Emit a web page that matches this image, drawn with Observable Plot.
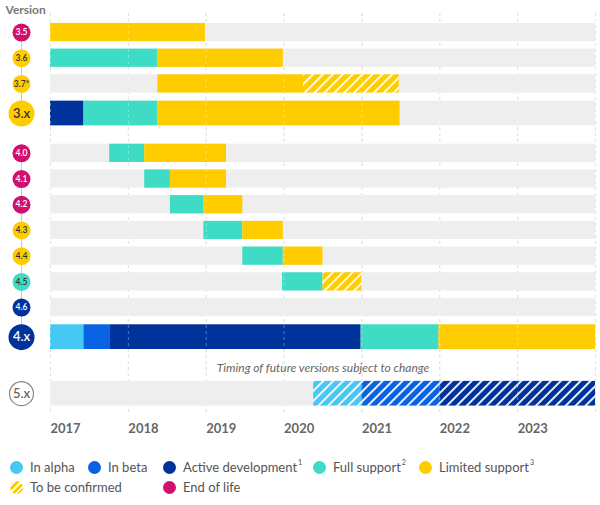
<!DOCTYPE html>
<html><head><meta charset="utf-8">
<script src="https://cdn.jsdelivr.net/npm/d3@7"></script>
<script src="https://cdn.jsdelivr.net/npm/@observablehq/plot@0.6"></script>
<style>
body{margin:0;background:#fff;font-family:Lato,"Open Sans",sans-serif;}
#chart{width:600px;height:445px;}
#legend{position:relative;width:600px;height:60px;font-size:13px;color:#555;}
.item{position:absolute;display:flex;align-items:center;white-space:nowrap;transform:translateY(-50%);}
.sw{width:13px;height:13px;border-radius:50%;margin-right:7px;flex:none;}
sup{font-size:7px;line-height:1;vertical-align:top;position:relative;top:0px;margin-left:1px;}
</style></head><body>
<div id="chart"></div>
<div id="legend"></div>
<script>
// ---- data ----
const versions = ["3.5","3.6","3.7","3.x","4.0","4.1","4.2","4.3","4.4","4.5","4.6","4.x","5.x"];
const versionLabels = ["3.5","3.6","3.7*","3.x","4.0","4.1","4.2","4.3","4.4","4.5","4.6","4.x","5.x"];
const versionGroup = [3,3,3,3,4,4,4,4,4,4,4,4,5];
const majorVersions = ["3.x","4.x","5.x"];
const versionStatus = ["End of life","Limited support","Limited support","Limited support",
  "End of life","End of life","End of life","Limited support","Limited support","Full support",
  "Active development","Active development","Future"];

const statusNames = ["In alpha","In beta","Active development","Full support","Limited support","To be confirmed","End of life"];
const statusColors = ["#46C8F5","#0862E2","#00329B","#3EDCC4","#FFCC00","#FFCC00","#D1106E"];

// segments: [status, start, end, toBeConfirmed]
const seg35 = [["Limited support",2017,2018.99,false]];
const seg36 = [["Full support",2017,2018.38,false],["Limited support",2018.38,2019.99,false]];
const seg37 = [["Limited support",2018.38,2020.25,false],["Limited support",2020.25,2021.48,true]];
const seg3x = [["Active development",2017,2017.43,false],["Full support",2017.43,2018.38,false],["Limited support",2018.38,2021.49,false]];
const seg40 = [["Full support",2017.76,2018.21,false],["Limited support",2018.21,2019.26,false]];
const seg41 = [["Full support",2018.21,2018.54,false],["Limited support",2018.54,2019.26,false]];
const seg42 = [["Full support",2018.54,2018.97,false],["Limited support",2018.97,2019.47,false]];
const seg43 = [["Full support",2018.97,2019.47,false],["Limited support",2019.47,2019.99,false]];
const seg44 = [["Full support",2019.47,2019.99,false],["Limited support",2019.99,2020.5,false]];
const seg45 = [["Full support",2019.98,2020.5,false],["Limited support",2020.5,2021.0,true]];
const seg46 = [];
const seg4x = [["In alpha",2017,2017.43,false],["In beta",2017.43,2017.77,false],["Active development",2017.77,2020.99,false],["Full support",2020.99,2021.99,false],["Limited support",2021.99,2024,false]];
const seg5x = [["In alpha",2020.38,2021.0,true],["In beta",2021.0,2022.0,true],["Active development",2022.0,2024,true]];
const versionSegments = [seg35,seg36,seg37,seg3x,seg40,seg41,seg42,seg43,seg44,seg45,seg46,seg4x,seg5x];

const yearTicks = [2017,2018,2019,2020,2021,2022,2023];
const gridYears = [2017,2018,2019,2020,2021,2022,2023,2024];
const note = "Timing of future versions subject to change";

// ---- layout (row units) ----
const groupGap = {4: 0.4, 5: 0.9};
const rows = [];
let pos = 0;
versions.forEach((v, i) => {
  const major = majorVersions.includes(v);
  if (i > 0) {
    const prev = rows[i - 1];
    pos += 1 + (prev.major ? 0.15 : 0) + (major ? 0.15 : 0) +
      (versionGroup[i] !== versionGroup[i - 1] ? groupGap[versionGroup[i]] : 0);
  }
  rows.push({version: v, label: versionLabels[i], status: versionStatus[i], major,
    group: versionGroup[i], slot: pos, half: major ? 0.48 : 0.355});
});
const colorOf = s => statusColors[statusNames.indexOf(s)];
const segs = [];
rows.forEach((r, i) => versionSegments[i].forEach(([status, start, end, tbc]) =>
  segs.push({version: r.version, slot: r.slot, half: r.half, status, start, end, tbc})));
const groupLines = d3.groups(rows, d => d.group).filter(([, g]) => g.length > 1)
  .map(([k, g]) => ({group: k, y1: g[0].slot, y2: g[g.length - 1].slot}));
const noteSlot = rows[rows.length - 1].slot - 1.0;

const hatchStatuses = ["In alpha","In beta","Active development","Limited support"];
const hatchId = s => "hatch-" + hatchStatuses.indexOf(s);
function defs() {
  const d = d3.create("svg:defs");
  hatchStatuses.forEach((s) => {
    const p = d.append("pattern").attr("id", hatchId(s)).attr("patternUnits", "userSpaceOnUse")
      .attr("width", 7).attr("height", 7).attr("patternTransform", "rotate(45)");
    p.append("rect").attr("width", 7).attr("height", 7).attr("fill", colorOf(s));
    p.append("rect").attr("width", 1.8).attr("height", 7).attr("fill", "#fff");
  });
  return d.node();
}

const circleFill = r => r.status === "Future" ? "#fff" : colorOf(r.status);
const circleText = r => r.status === "Future" ? "#666" :
  (r.status === "End of life" || r.status === "Active development") ? "#fff" : "#333";
const dotX = () => 2017;

const chart = Plot.plot({
  width: 600, height: 445,
  marginLeft: 50, marginRight: 5, marginTop: 13, marginBottom: 32,
  x: {domain: [2017, 2024], axis: null},
  y: {domain: [-0.74, 14.82], reverse: true, axis: null},
  color: {type: "identity"},
  r: {type: "identity"},
  style: {fontFamily: "Lato, 'Open Sans', sans-serif", background: "#fff", overflow: "visible"},
  marks: [
    defs,
    Plot.ruleX(gridYears, {x: d => d, stroke: "#cfcfcf", strokeDasharray: "3,3"}),
    Plot.rect(rows, {x1: () => 2017, x2: () => 2024, y1: d => d.slot - d.half, y2: d => d.slot + d.half, fill: "#eeeeee"}),
    Plot.rect(segs, {x1: "start", x2: "end", y1: d => d.slot - d.half, y2: d => d.slot + d.half,
      fill: d => d.tbc ? `url(#${hatchId(d.status)})` : colorOf(d.status)}),
    Plot.ruleX(gridYears, {x: d => d, stroke: "#fff", strokeOpacity: 0.35, strokeDasharray: "3,3"}),
    Plot.ruleX(groupLines, {x: dotX, dx: -29, y1: "y1", y2: "y2", stroke: "#cccccc", strokeWidth: 1}),
    Plot.dot(rows, {x: dotX, dx: -29, y: "slot", r: d => d.major ? (d.status === "Future" ? 12 : 13) : 9,
      fill: circleFill, stroke: d => d.status === "Future" ? "#888" : "none", strokeWidth: 1.2}),
    Plot.text(rows.filter(d => !d.major), {x: dotX, dx: -29, y: "slot", text: "label", fill: circleText,
      fontSize: 8.5, fontWeight: 600}),
    Plot.text(rows.filter(d => d.major), {x: dotX, dx: -29, y: "slot", text: "label", fill: circleText,
      fontSize: 13, fontWeight: 600}),
    Plot.text([note], {y: () => noteSlot, frameAnchor: "middle", fill: "#666", fontSize: 12,
      fontStyle: "italic", fontWeight: 400}),
    Plot.text(yearTicks, {x: d => d, frameAnchor: "bottom", dy: 15, lineAnchor: "middle",
      textAnchor: "start", text: d => String(d), fill: "#666", fontSize: 13, fontWeight: 700}),
    Plot.text(["Version"], {frameAnchor: "top-left", dx: -45, dy: -3, textAnchor: "start",
      lineAnchor: "middle", fill: "#777", fontSize: 12, fontWeight: 700})
  ]
});
document.getElementById("chart").append(chart);

// ---- legend ----
const legendItems = [
  {name: "In alpha", sup: "", left: 10, top: 22},
  {name: "In beta", sup: "", left: 88, top: 22},
  {name: "Active development", sup: "1", left: 163, top: 22},
  {name: "Full support", sup: "2", left: 313, top: 22},
  {name: "Limited support", sup: "3", left: 419, top: 22},
  {name: "To be confirmed", sup: "", left: 10, top: 42},
  {name: "End of life", sup: "", left: 163, top: 42}
];
const legend = document.getElementById("legend");
legendItems.forEach(it => {
  const el = document.createElement("div");
  el.className = "item";
  el.style.left = it.left + "px";
  el.style.top = it.top + "px";
  const sw = document.createElement("span");
  sw.className = "sw";
  const c = colorOf(it.name);
  sw.style.background = it.name === "To be confirmed"
    ? `repeating-linear-gradient(135deg, ${c} 0 3px, #fff 3px 4.6px)` : c;
  el.append(sw);
  const t = document.createElement("span");
  t.innerHTML = it.name + (it.sup ? `<sup>${it.sup}</sup>` : "");
  el.append(t);
  legend.append(el);
});
</script>
</body></html>
